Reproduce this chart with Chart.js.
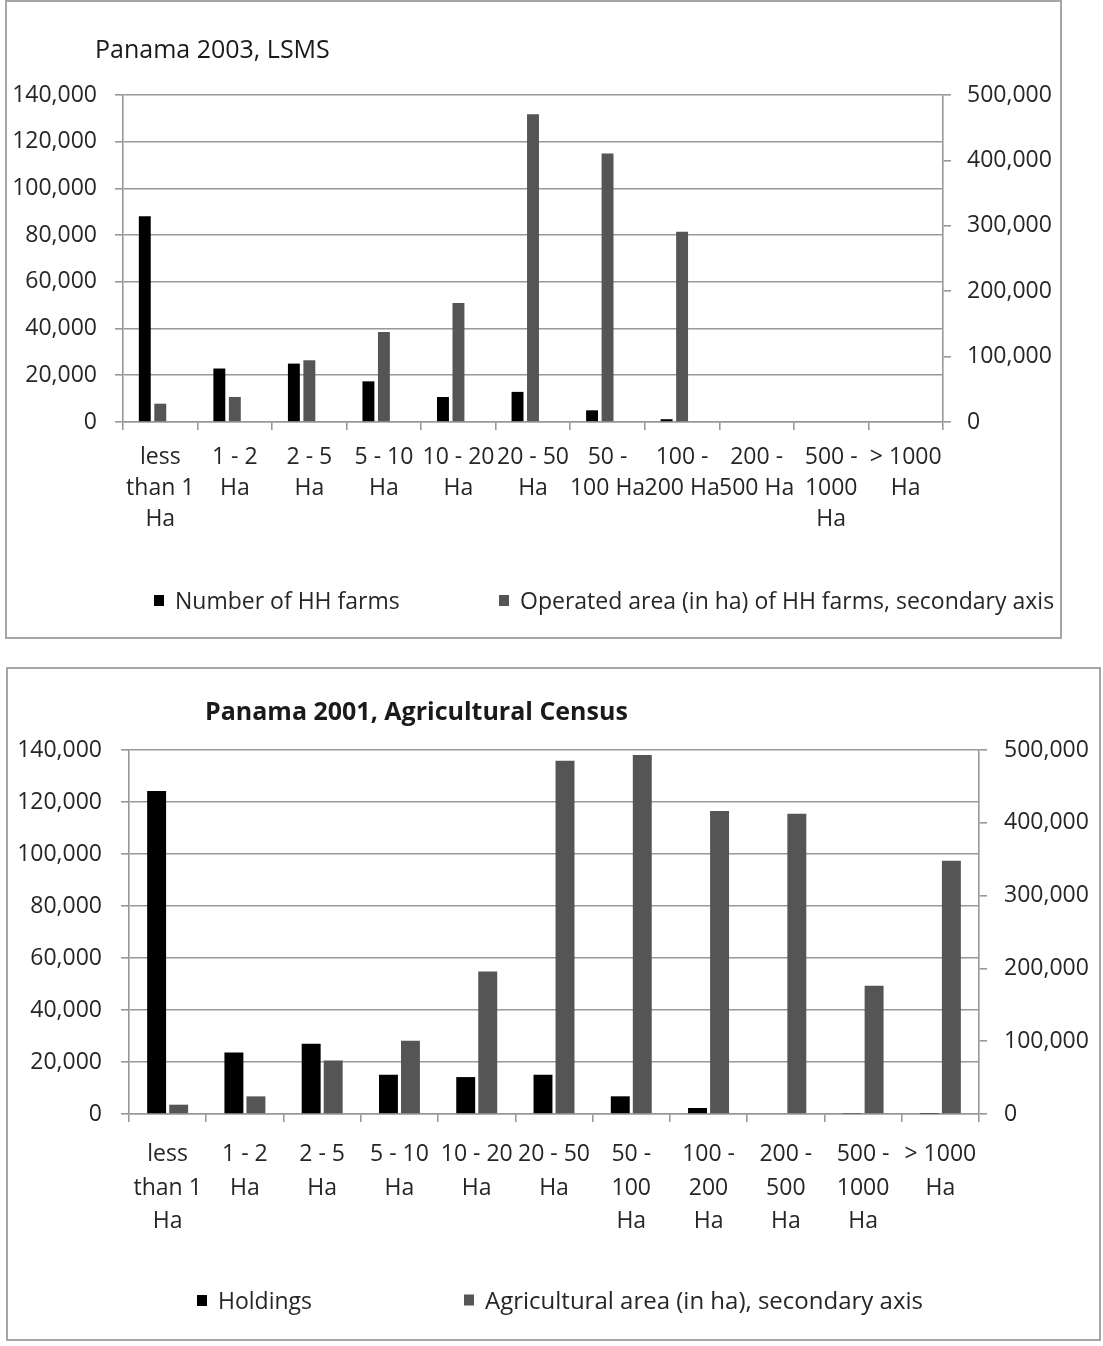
<!DOCTYPE html>
<html lang="en">
    <head>
        <meta charset="UTF-8" />
        <title>Panama farm size distribution</title>
        <style>
            body {
                margin: 0;
                background: #fff;
                font-family: "Open Sans", sans-serif;
                color: #262626;
            }

            .panel {
                position: absolute;
                border: 2px solid #a6a6a6;
                background: #fff;
            }

            .panel canvas {
                position: absolute;
                left: 0;
                top: 0;
            }

            .chart-title {
                position: absolute;
                white-space: nowrap;
                line-height: 1;
                transform: translateY(-50%);
                color: #1a1a1a;
            }

            .key {
                position: absolute;
                white-space: nowrap;
                font-size: 23px;
                line-height: 1;
                transform: translateY(-50%);
            }

            .key i {
                position: absolute;
                left: 0;
                width: 10px;
                height: 11px;
                top: 50%;
                transform: translateY(-50%);
            }
        </style>
    </head>
    <body>
        <div class="panel" id="panel-lsms" style="left: 5px; top: 0; width: 1053px; height: 635px">
            <canvas id="chart-lsms" width="1053" height="635"></canvas>
            <div class="chart-title" style="left: 88px; top: 46px; font-size: 25px">Panama 2003, LSMS</div>
            <div class="key" style="left: 147px; top: 598px"><i style="background: #000"></i><span style="margin-left: 21px">Number of HH farms</span></div>
            <div class="key" style="left: 492px; top: 598px"><i style="background: #555"></i><span style="margin-left: 21px">Operated area (in ha) of HH farms, secondary axis</span></div>
        </div>

        <div class="panel" id="panel-census" style="left: 6px; top: 667px; width: 1091px; height: 670px">
            <canvas id="chart-census" width="1091" height="670"></canvas>
            <div class="chart-title" style="left: 197px; top: 41px; font-size: 25px; font-weight: bold">Panama 2001, Agricultural Census</div>
            <div class="key" style="left: 189px; top: 631px"><i style="background: #000"></i><span style="margin-left: 21px">Holdings</span></div>
            <div class="key" style="left: 456px; top: 631px"><i style="background: #555"></i><span style="margin-left: 21px; font-size: 24px">Agricultural area (in ha), secondary axis</span></div>
        </div>

        <script src="https://cdn.jsdelivr.net/npm/chart.js@4.4.0/dist/chart.umd.min.js"></script>
        <script>
            // farm size classes, wrapped the way the axis shows them
            const sizeClasses2003 = [
                ["less", "than 1", "Ha"], ["1 - 2", "Ha"], ["2 - 5", "Ha"], ["5 - 10", "Ha"],
                ["10 - 20", "Ha"], ["20 - 50", "Ha"], ["50 -", "100 Ha"], ["100 -", "200 Ha"],
                ["200 -", "500 Ha"], ["500 -", "1000", "Ha"], ["> 1000", "Ha"]
            ];
            const sizeClasses2001 = [
                ["less", "than 1", "Ha"], ["1 - 2", "Ha"], ["2 - 5", "Ha"], ["5 - 10", "Ha"],
                ["10 - 20", "Ha"], ["20 - 50", "Ha"], ["50 -", "100", "Ha"], ["100 -", "200", "Ha"],
                ["200 -", "500", "Ha"], ["500 -", "1000", "Ha"], ["> 1000", "Ha"]
            ];

            // LSMS 2003
            const hhFarms2003 = [88100, 22900, 25000, 17400, 10700, 12900, 5000, 1200, 0, 0, 0];
            const hhArea2003 = [28000, 38300, 94400, 137800, 182100, 470400, 410700, 290800, 0, 0, 0];

            // Agricultural census 2001
            const holdings2001 = [124200, 23700, 27000, 15100, 14200, 15100, 6800, 2300, 300, 200, 150];
            const agArea2001 = [12800, 24200, 73600, 100600, 195800, 485400, 493000, 416300, 412600, 176100, 347700];

            // axis ranges
            const countAxis = { max: 140000, step: 20000 };
            const areaAxis = { max: 500000, step: 100000 };

            const GRID = "#989898";
            const TEXT = "#262626";

            Chart.defaults.font.family = "'Open Sans', sans-serif";
            Chart.defaults.font.size = 23;
            Chart.defaults.color = TEXT;

            function fmt(v) {
                return v.toLocaleString("en-US");
            }

            function makeChart(id, c) {
                let datasets = [
                    {
                        label: c.names[0],
                        data: c.left,
                        backgroundColor: "#000",
                        yAxisID: "y",
                        barPercentage: c.barPct,
                        categoryPercentage: c.catPct,
                    },
                    {
                        label: c.names[1],
                        data: c.right,
                        backgroundColor: "#555",
                        yAxisID: "y2",
                        barPercentage: c.barPct,
                        categoryPercentage: c.catPct,
                    },
                ];
                // empty third slot, keeps the pair left of the tick centre
                if (c.spacer) {
                    datasets.push({
                        label: "",
                        data: [],
                        yAxisID: "y",
                        barPercentage: c.barPct,
                        categoryPercentage: c.catPct,
                    });
                }

                return new Chart(document.getElementById(id), {
                    type: "bar",
                    data: { labels: c.labels, datasets: datasets },
                    options: {
                        responsive: false,
                        animation: false,
                        layout: { padding: { left: 0, right: 0, top: c.top, bottom: c.bottom } },
                        plugins: {
                            legend: { display: false },
                            title: { display: false },
                            tooltip: { enabled: false },
                        },
                        scales: {
                            x: {
                                grid: {
                                    offset: true,
                                    drawOnChartArea: false,
                                    tickLength: 8,
                                    color: GRID,
                                    lineWidth: 1.6,
                                },
                                border: { color: GRID, width: 1.6 },
                                ticks: {
                                    autoSkip: false,
                                    maxRotation: 0,
                                    minRotation: 0,
                                    padding: c.xPad,
                                    font: { lineHeight: c.lineH },
                                },
                                afterFit: (s) => { s.height = c.xHeight; },
                            },
                            y: {
                                position: "left",
                                min: 0,
                                max: countAxis.max,
                                ticks: { stepSize: countAxis.step, padding: c.yPad, callback: fmt },
                                grid: { tickLength: 8, color: GRID, lineWidth: 1.6 },
                                border: { color: GRID, width: 1.6 },
                                afterFit: (s) => { s.width = c.leftW; },
                            },
                            y2: {
                                position: "right",
                                min: 0,
                                max: areaAxis.max,
                                ticks: { stepSize: areaAxis.step, padding: c.y2Pad, callback: fmt },
                                grid: { drawOnChartArea: false, tickLength: 8, color: GRID, lineWidth: 1.6 },
                                border: { color: GRID, width: 1.6 },
                                afterFit: (s) => { s.width = c.rightW; },
                            },
                        },
                    },
                });
            }

            makeChart("chart-lsms", {
                labels: sizeClasses2003,
                names: ["Number of HH farms", "Operated area (in ha) of HH farms, secondary axis"],
                left: hhFarms2003,
                right: hhArea2003,
                spacer: true,
                barPct: 0.77,
                catPct: 0.623,
                top: 93,
                bottom: 95,
                xHeight: 120,
                xPad: 12,
                lineH: 1.35,
                leftW: 116,
                rightW: 117,
                yPad: 18,
                y2Pad: 16,
            });

            makeChart("chart-census", {
                labels: sizeClasses2001,
                names: ["Holdings", "Agricultural area (in ha), secondary axis"],
                left: holdings2001,
                right: agArea2001,
                spacer: false,
                barPct: 0.86,
                catPct: 0.57,
                top: 81,
                bottom: 95,
                xHeight: 130,
                xPad: 16,
                lineH: 1.46,
                leftW: 121,
                rightW: 120,
                yPad: 19,
                y2Pad: 17,
            });
        </script>
    </body>
</html>
